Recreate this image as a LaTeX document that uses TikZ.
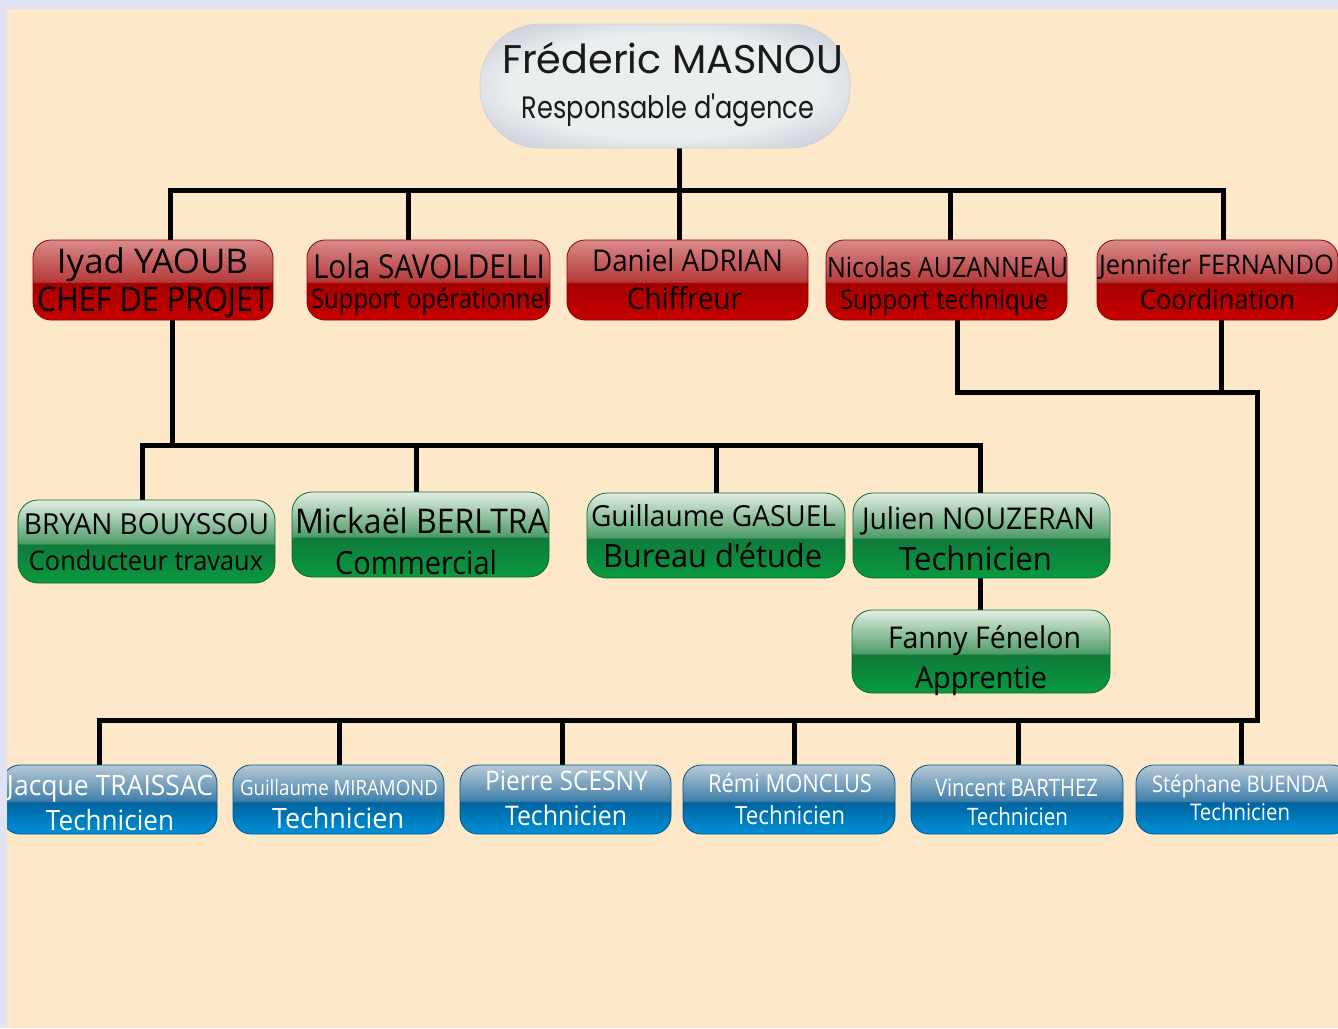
\documentclass[tikz,border=0pt]{standalone}
\usepackage{fontspec}
\setmainfont{Open Sans}
\newfontfamily\osfont{Open Sans}
\newfontfamily\topfont{Poppins}
\usetikzlibrary{calc}
\definecolor{lav}{HTML}{E1E3F3}
\definecolor{cream}{HTML}{FDE9C9}
\definecolor{rT}{HTML}{D98A8A}\definecolor{rH}{HTML}{B53A3A}\definecolor{rM}{HTML}{A50000}\definecolor{rB}{HTML}{C80000}\definecolor{rD}{HTML}{8A0000}
\definecolor{gT}{HTML}{E3EEE4}\definecolor{gH}{HTML}{4E9C68}\definecolor{gM}{HTML}{0F7A3B}\definecolor{gB}{HTML}{089A40}\definecolor{gD}{HTML}{0A6A30}
\definecolor{bT}{HTML}{B8CAD6}\definecolor{bH}{HTML}{3F7EAA}\definecolor{bM}{HTML}{00649F}\definecolor{bB}{HTML}{0090D8}\definecolor{bD}{HTML}{00507F}
\definecolor{tIn}{HTML}{EBEEEF}\definecolor{tOut}{HTML}{CDD1DA}
\definecolor{topink}{HTML}{1A1A1A}
\pgfdeclareverticalshading{redgloss}{100bp}{color(0bp)=(rB); color(25bp)=(rB); color(48bp)=(rM); color(49bp)=(rH); color(75bp)=(rT); color(100bp)=(rT)}
\pgfdeclareverticalshading{greengloss}{100bp}{color(0bp)=(gB); color(25bp)=(gB); color(48bp)=(gM); color(49bp)=(gH); color(75bp)=(gT); color(100bp)=(gT)}
\pgfdeclareverticalshading{bluegloss}{100bp}{color(0bp)=(bB); color(25bp)=(bB); color(48bp)=(bM); color(49bp)=(bH); color(75bp)=(bT); color(100bp)=(bT)}
\pgfdeclareradialshading{topglow}{\pgfpoint{0bp}{0bp}}{color(0bp)=(tIn); color(21bp)=(tIn); color(31bp)=(tOut); color(50bp)=(tOut)}
\pgfdeclarelayer{back}\pgfdeclarelayer{lines}\pgfdeclarelayer{front}
\pgfsetlayers{back,lines,main,front}
\newcommand\fs[1]{\osfont\fontsize{#1}{#1}\selectfont}
\newcommand\tfs[1]{\topfont\fontsize{#1}{#1}\selectfont}
\newcommand\tx[2]{\resizebox{#1pt}{\height}{#2}}
\tikzset{
  box/.style={rectangle, inner sep=0pt, outer sep=0pt, line width=0.8pt},
  redbox/.style={box, rounded corners=18pt, draw=rD, shade, shading=redgloss, minimum width=241pt, minimum height=80pt},
  greenbox/.style={box, rounded corners=20pt, draw=gD, shade, shading=greengloss, minimum width=257pt, minimum height=84pt},
  bluebox/.style={box, rounded corners=18pt, draw=bD, shade, shading=bluegloss, minimum width=211pt, minimum height=69pt},
  topbox/.style={box, rounded corners=60pt, draw=tOut, shade, shading=topglow, minimum width=370pt, minimum height=124pt},
  lbl/.style={anchor=base, inner sep=0pt, outer sep=0pt, text=black},
  tlbl/.style={lbl, text=topink},
  wlbl/.style={lbl, text=white},
  conn/.style={line width=5pt, draw=black, line join=miter}
}
\begin{document}
\begin{tikzpicture}[x=1pt,y=-1pt]
\useasboundingbox (0,0) rectangle (1338,1028);
\begin{pgfonlayer}{back}
\fill[lav] (0,0) rectangle (1338,1028);
\fill[cream] (7,9) rectangle (1338,1028);
\end{pgfonlayer}

% top
\node[topbox] (top) at (665,86) {};
\node[tlbl, font=\tfs{40}] (top-a) at (672.5,73) {\tx{341}{Fréderic MASNOU}};
\node[tlbl, font=\tfs{31}] (top-b) at (668,118) {\tx{292}{Responsable d'agence}};

% red row
\node[redbox, minimum width=240pt] (iyad) at (153,280) {};
\node[redbox, minimum width=243pt] (lola) at (428.5,280) {};
\node[redbox] (daniel) at (687.5,280) {};
\node[redbox] (nicolas) at (946.5,280) {};
\node[redbox] (jennifer) at (1217.5,280) {};
\node[lbl, font=\fs{34}] (iyad-a) at (152.5,273) {\tx{191}{Iyad YAOUB}};
\node[lbl, font=\fs{34}] (iyad-b) at (153.5,311) {\tx{233}{CHEF DE PROJET}};
\node[lbl, font=\fs{33}] (lola-a) at (429,278) {\tx{232}{Lola SAVOLDELLI}};
\node[lbl, font=\fs{27}] (lola-b) at (430.5,308) {\tx{239}{Support opérationnel}};
\node[lbl, font=\fs{30}] (daniel-a) at (687.5,271) {\tx{191}{Daniel ADRIAN}};
\node[lbl, font=\fs{30}] (daniel-b) at (684.5,309) {\tx{115}{Chiffreur}};
\node[lbl, font=\fs{28}] (nicolas-a) at (947.5,277) {\tx{241}{Nicolas AUZANNEAU}};
\node[lbl, font=\fs{27}] (nicolas-b) at (944,309) {\tx{208}{Support technique}};
\node[lbl, font=\fs{27}] (jennifer-a) at (1216.5,274) {\tx{235}{Jennifer FERNANDO}};
\node[lbl, font=\fs{27}] (jennifer-b) at (1217.5,309) {\tx{155}{Coordination}};

% green row
\node[greenbox, minimum height=83pt] (bryan) at (146.5,541.5) {};
\node[greenbox, minimum height=85pt] (mickael) at (420.5,534.5) {};
\node[greenbox, minimum height=85pt, minimum width=258pt] (gasuel) at (716,535.5) {};
\node[greenbox, minimum height=85pt] (julien) at (981.5,535.5) {};
\node[greenbox, minimum height=83pt, minimum width=258pt] (fanny) at (981,651.5) {};
\node[lbl, font=\fs{29}] (bryan-a) at (146.5,534) {\tx{245}{BRYAN BOUYSSOU}};
\node[lbl, font=\fs{27}] (bryan-b) at (146,570) {\tx{234}{Conducteur travaux}};
\node[lbl, font=\fs{34}] (mickael-a) at (421.5,533) {\tx{253}{Mickaël BERLTRA}};
\node[lbl, font=\fs{32}] (mickael-b) at (416,574) {\tx{162}{Commercial}};
\node[lbl, font=\fs{29}] (gasuel-a) at (713.5,526) {\tx{245}{Guillaume GASUEL}};
\node[lbl, font=\fs{32}] (gasuel-b) at (712.5,567) {\tx{219}{Bureau d'étude}};
\node[lbl, font=\fs{30}] (julien-a) at (978.5,529) {\tx{233}{Julien NOUZERAN}};
\node[lbl, font=\fs{32}] (julien-b) at (975.5,570) {\tx{153}{Technicien}};
\node[lbl, font=\fs{30}] (fanny-a) at (984.5,648) {\tx{193}{Fanny Fénelon}};
\node[lbl, font=\fs{30}] (fanny-b) at (981,688) {\tx{132}{Apprentie}};

% blue row
\node[bluebox, minimum width=215pt] (jacque) at (109.5,799.5) {};
\node[bluebox] (miramond) at (338.5,799.5) {};
\node[bluebox] (pierre) at (565.5,799.5) {};
\node[bluebox, minimum width=212pt] (remi) at (789,799.5) {};
\node[bluebox, minimum width=212pt] (vincent) at (1017,799.5) {};
\node[bluebox, minimum width=214pt] (stephane) at (1243,799.5) {};
\node[wlbl, font=\fs{28}] (jacque-a) at (110,795) {\tx{206}{Jacque TRAISSAC}};
\node[wlbl, font=\fs{28}] (jacque-b) at (110,830) {\tx{128}{Technicien}};
\node[wlbl, font=\fs{21}] (miramond-a) at (339,795) {\tx{198}{Guillaume MIRAMOND}};
\node[wlbl, font=\fs{28}] (miramond-b) at (338,828) {\tx{132}{Technicien}};
\node[wlbl, font=\fs{27}] (pierre-a) at (566.5,790) {\tx{163}{Pierre SCESNY}};
\node[wlbl, font=\fs{27}] (pierre-b) at (566,825) {\tx{122}{Technicien}};
\node[wlbl, font=\fs{25}] (remi-a) at (790,792) {\tx{164}{Rémi MONCLUS}};
\node[wlbl, font=\fs{25}] (remi-b) at (790,824) {\tx{110}{Technicien}};
\node[wlbl, font=\fs{24}] (vincent-a) at (1016.5,796) {\tx{163}{Vincent BARTHEZ}};
\node[wlbl, font=\fs{24}] (vincent-b) at (1017.5,825) {\tx{101}{Technicien}};
\node[wlbl, font=\fs{23}] (stephane-a) at (1240,792) {\tx{176}{Stéphane BUENDA}};
\node[wlbl, font=\fs{23}] (stephane-b) at (1240,820) {\tx{100}{Technicien}};

% connectors
\coordinate (j0) at (679,190);
\coordinate (j0L) at (170,190);
\coordinate (j0R) at (1223,190);
\coordinate (jl) at (408,190);
\coordinate (jn) at (950,190);
\coordinate (k0) at (172,445);
\coordinate (kL) at (142,445);
\coordinate (kR) at (980,445);
\coordinate (km) at (416,445);
\coordinate (kg) at (716,445);
\coordinate (m1) at (957,392);
\coordinate (m2) at (1221,392);
\coordinate (m3) at (1257,392);
\coordinate (mL) at (99,720);
\coordinate (d2) at (339,720);
\coordinate (d3) at (562,720);
\coordinate (d4) at (794,720);
\coordinate (d5) at (1018,720);
\coordinate (d6) at (1241,720);
\begin{pgfonlayer}{lines}
\draw[conn] (top.south -| j0) -- (daniel.north -| j0);
\draw[conn] (iyad.north -| j0L) |- (j0R) -- (jennifer.north -| j0R);
\draw[conn] (jl) -- (lola.north -| jl);
\draw[conn] (jn) -- (nicolas.north -| jn);
\draw[conn] (iyad.south -| k0) -- (k0);
\draw[conn] (bryan.north -| kL) |- (kR) -- (julien.north -| kR);
\draw[conn] (km) -- (mickael.north -| km);
\draw[conn] (kg) -- (gasuel.north -| kg);
\draw[conn] (julien.south -| kR) -- (fanny.north -| kR);
\draw[conn] (nicolas.south -| m1) |- (m3) |- (mL) -- (jacque.north -| mL);
\draw[conn] (jennifer.south -| m2) -- (m2);
\draw[conn] (d2) -- (miramond.north -| d2);
\draw[conn] (d3) -- (pierre.north -| d3);
\draw[conn] (d4) -- (remi.north -| d4);
\draw[conn] (d5) -- (vincent.north -| d5);
\draw[conn] (d6) -- (stephane.north -| d6);
\end{pgfonlayer}
\begin{pgfonlayer}{front}
\fill[lav] (0,0) rectangle (7,1028);
\fill[lav] (0,0) rectangle (1338,9);
\end{pgfonlayer}
\end{tikzpicture}
\end{document}
